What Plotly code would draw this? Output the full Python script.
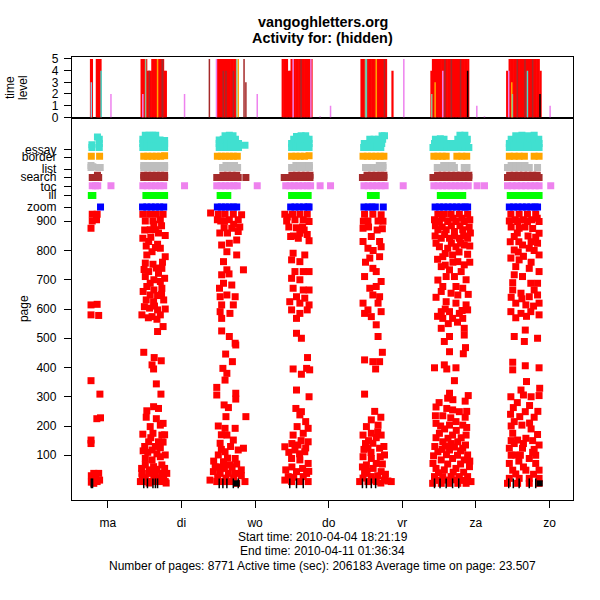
import plotly.graph_objects as go

FONT = "Liberation Sans, Arial, sans-serif"

# ---------------- axis tick data ----------------
day_ticks = [24, 48, 72, 96, 120, 144, 168]          # hours since 2010-04-04 00:00
day_labels = ["ma", "di", "wo", "do", "vr", "za", "zo"]
page_ticks = [100, 200, 300, 400, 500, 600, 700, 800, 900]
cat_labels = ["zoom", "ill", "toc", "search", "list", "border", "essay"]
cat_ticks = [948, 989, 1019, 1051, 1078, 1119, 1146]
level_ticks = [0, 1, 2, 3, 4, 5]

# ---------------- page views (hour, page) per day ----------------
pages_c1 = [(18.9, 924), (20.5, 924), (18.9, 901), (20.3, 905), (18.5, 876), (18.5, 614), (20.5, 616),
            (18.5, 580), (21.0, 578), (18.5, 355), (21.4, 309), (20.4, 225), (21.6, 228), (18.5, 152),
            (18.5, 140), (19.4, 38), (21.0, 38), (18.6, 30), (20.0, 25), (18.9, 15), (21.3, 15),
            (20.5, 10), (18.6, 8), (19.4, 4)]
pages_c2 = [(35.4, 924), (37.6, 924), (39.8, 924), (42.0, 924), (36.2, 901), (38.7, 901), (41.1, 905),
            (37.8, 871), (39.5, 871), (35.4, 842), (42.7, 851), (37.3, 831), (40.2, 821), (38.4, 796),
            (41.1, 808), (42.7, 779), (36.7, 785), (36.2, 757), (38.7, 753), (41.6, 739), (37.3, 728),
            (40.5, 722), (36.2, 711), (37.8, 688), (41.1, 694), (36.7, 677), (41.6, 671), (37.8, 648),
            (40.2, 646), (36.5, 631), (38.9, 625), (42.2, 631), (35.9, 608), (37.6, 603), (40.2, 597),
            (42.7, 600), (35.1, 580), (38.4, 574), (41.1, 580), (42.0, 540), (40.2, 523), (35.7, 452),
            (39.1, 434), (41.4, 423), (38.4, 409), (38.9, 395), (39.8, 344), (41.3, 309), (38.9, 266),
            (36.7, 252), (40.5, 260), (37.8, 198), (41.1, 203), (42.0, 209), (35.4, 172), (38.7, 175),
            (41.6, 169), (37.3, 146), (40.5, 146), (38.4, 118), (41.1, 126), (36.2, 89), (38.4, 84),
            (41.1, 95), (42.7, 101), (36.2, 67), (38.9, 61), (41.6, 67), (35.1, 38), (37.3, 38),
            (39.5, 38), (41.6, 38), (43.2, 38), (34.6, 10), (36.5, 10), (38.4, 10), (40.5, 10),
            (42.7, 10), (36.2, 21), (40.0, 21), (42.2, 21), (35.0, 55), (37.5, 50), (40.0, 52),
            (42.5, 55), (35.2, 25), (39.0, 28), (41.0, 15), (37.4, 5), (43.0, 5),
            (39.0, 890), (41.5, 885), (36.0, 870), (40.5, 860), (38.0, 845), (39.5, 810), (36.5, 815),
            (41.8, 760), (39.8, 740), (35.8, 735), (39.0, 700), (42.5, 705), (35.5, 660), (39.0, 665),
            (41.5, 650), (39.2, 610), (37.2, 570), (40.0, 565), (36.0, 130), (39.5, 130), (42.0, 145),
            (37.0, 110), (40.0, 105), (35.5, 115), (38.0, 160), (42.5, 170), (36.5, 230), (39.8, 225)]
pages_c3 = [(57.5, 928), (60.0, 924), (62.2, 924), (64.9, 924), (67.6, 922), (60.8, 901), (63.6, 905),
            (66.5, 905), (61.9, 878), (64.4, 876), (61.1, 819), (66.0, 836), (63.6, 825), (62.8, 796),
            (66.0, 785), (61.7, 762), (62.8, 734), (68.2, 734), (61.1, 717), (61.7, 688), (64.4, 682),
            (60.4, 671), (60.6, 642), (62.8, 648), (65.5, 642), (64.9, 614), (61.1, 614), (60.6, 591),
            (63.8, 585), (61.1, 568), (61.1, 525), (63.6, 506), (65.5, 483), (62.4, 446), (65.7, 477),
            (64.6, 420), (61.5, 397), (62.8, 380), (62.2, 357), (59.5, 332), (59.5, 306), (65.7, 312),
            (65.7, 292), (61.9, 272), (63.3, 263), (62.5, 232), (69.0, 232), (62.2, 192), (65.5, 192),
            (60.6, 141), (64.9, 152), (62.8, 169), (60.0, 101), (62.2, 112), (66.5, 118), (68.2, 124),
            (61.7, 78), (65.5, 89), (63.8, 67), (58.4, 44), (60.6, 38), (63.3, 38), (65.5, 38),
            (57.3, 15), (59.5, 10), (61.7, 10), (63.8, 10), (66.0, 4), (68.7, 10), (59.0, 60),
            (62.0, 55), (64.5, 60), (67.5, 30), (59.8, 25), (62.5, 22), (65.0, 22), (61.0, 170),
            (64.0, 130), (60.0, 200),
            (59.7, 905), (62.0, 900), (65.0, 890), (67.0, 880), (60.5, 860), (63.0, 860), (66.5, 865),
            (63.5, 720), (58.5, 80), (63.0, 90), (66.0, 70), (61.0, 120), (60.5, 60), (67.5, 50)]
pages_c4 = [(81.7, 924), (84.2, 924), (86.6, 924), (89.0, 924), (82.3, 901), (85.0, 905), (87.7, 905),
            (89.6, 899), (85.5, 878), (86.6, 859), (83.6, 848), (86.1, 842), (89.6, 833), (84.4, 791),
            (88.2, 785), (83.9, 768), (86.6, 762), (85.0, 728), (87.7, 728), (89.6, 728), (83.9, 705),
            (86.6, 700), (84.4, 671), (87.7, 665), (89.6, 665), (85.5, 642), (88.2, 637), (83.3, 625),
            (86.6, 620), (89.6, 614), (83.9, 597), (86.6, 585), (85.5, 568), (89.0, 597), (85.5, 517),
            (87.1, 500), (89.1, 434), (84.4, 395), (87.1, 377), (88.8, 397), (89.8, 392), (85.5, 323),
            (89.6, 300), (85.3, 260), (86.6, 238), (87.1, 249), (85.7, 198), (89.3, 192), (84.4, 169),
            (87.7, 175), (89.3, 146), (81.7, 129), (85.0, 118), (88.2, 112), (83.9, 89), (86.6, 84),
            (89.3, 72), (85.5, 44), (88.8, 38), (81.7, 15), (83.9, 10), (86.6, 10), (89.3, 10),
            (87.7, 27), (82.8, 27), (84.6, 25), (87.0, 150), (84.0, 140), (86.5, 105), (88.5, 215),
            (83.0, 880), (88.0, 870), (84.5, 850), (89.0, 855), (82.5, 915), (87.5, 880),
            (82.0, 50), (84.0, 60), (87.5, 55), (89.5, 45), (83.0, 110), (86.0, 135), (88.5, 125)]
pages_c5 = [(107.7, 924), (110.4, 924), (113.1, 922), (108.8, 901), (112.1, 901), (107.2, 876),
            (113.5, 874), (109.9, 848), (107.2, 831), (112.6, 831), (108.8, 808), (113.1, 813),
            (109.4, 774), (112.6, 779), (110.4, 739), (111.5, 728), (107.7, 711), (113.1, 694),
            (109.4, 671), (111.5, 677), (110.4, 648), (112.6, 642), (107.2, 620), (112.1, 620),
            (108.8, 597), (113.1, 591), (109.9, 574), (107.7, 585), (111.5, 546), (112.1, 506),
            (113.5, 452), (107.7, 426), (110.4, 420), (112.6, 420), (111.3, 395), (107.7, 309),
            (109.9, 221), (108.3, 198), (112.1, 203), (107.2, 169), (109.9, 175), (113.1, 169),
            (110.4, 141), (108.8, 124), (112.6, 124), (114.2, 101), (107.2, 95), (109.9, 89),
            (108.3, 67), (111.5, 72), (113.1, 44), (107.7, 38), (116.4, 10), (106.1, 10), (108.8, 10),
            (111.5, 10), (114.2, 15), (109.9, 27), (108.0, 140), (111.5, 160), (112.8, 95),
            (110.5, 55), (108.5, 45), (112.0, 30), (114.5, 35), (107.2, 22), (113.0, 5), (115.3, 12),
            (109.8, 110), (111.0, 250), (113.0, 230),
            (109.0, 880), (111.8, 870), (113.7, 900), (107.3, 900), (110.5, 800), (108.0, 760),
            (107.0, 60), (109.0, 150), (112.0, 180), (114.0, 130), (110.0, 15), (107.5, 120),
            (113.5, 70)]
pages_c6 = [(131.6, 924), (133.7, 924), (135.9, 924), (138.6, 924), (141.3, 924), (132.1, 899),
            (134.8, 899), (137.5, 899), (140.2, 899), (131.6, 871), (134.3, 871), (137.0, 865),
            (139.7, 871), (132.7, 842), (135.4, 842), (138.6, 842), (141.3, 842), (132.1, 813),
            (134.8, 808), (137.5, 813), (140.2, 819), (133.2, 779), (136.4, 785), (141.3, 787),
            (138.1, 762), (140.2, 751), (132.7, 745), (135.4, 734), (139.2, 728), (131.6, 699),
            (134.3, 711), (137.0, 711), (140.8, 700), (133.2, 677), (137.5, 677), (139.7, 671),
            (132.7, 660), (135.9, 654), (138.1, 648), (134.3, 625), (137.5, 620), (140.8, 614),
            (132.7, 591), (135.4, 591), (138.6, 585), (141.3, 597), (133.2, 568), (136.4, 568),
            (139.7, 568), (132.7, 534), (135.4, 506), (133.7, 489), (140.2, 534), (140.2, 511),
            (140.6, 468), (135.4, 454), (139.9, 447), (130.5, 399), (133.7, 409), (134.5, 395),
            (137.5, 399), (137.0, 355), (135.4, 312), (134.8, 295), (141.5, 304), (136.4, 255),
            (138.6, 249), (133.2, 235), (131.0, 209), (135.4, 203), (139.7, 203), (132.1, 175),
            (136.4, 169), (140.8, 169), (133.2, 146), (138.1, 146), (131.6, 112), (135.4, 118),
            (139.7, 124), (141.3, 101), (132.7, 84), (136.4, 89), (140.2, 84), (141.9, 61),
            (131.0, 55), (133.7, 50), (137.5, 55), (130.5, 27), (133.2, 27), (135.9, 27), (138.6, 27),
            (141.3, 27), (129.9, 4), (132.7, 4), (135.4, 4), (138.1, 4), (140.8, 4), (142.4, 10),
            (130.8, 235), (135.8, 228), (140.5, 230), (133.8, 190), (137.6, 185), (141.0, 195),
            (131.0, 160), (134.9, 158), (139.2, 160), (130.6, 130), (134.0, 132), (137.0, 128),
            (140.6, 135), (130.2, 98), (134.4, 102), (138.0, 100), (130.0, 72), (134.8, 70),
            (139.0, 70), (142.0, 80), (131.8, 40), (136.6, 42), (140.0, 42), (131.2, 14), (134.0, 15),
            (137.0, 16), (139.8, 14),
            (130.5, 905), (133.0, 910), (136.5, 910), (139.5, 910), (142.0, 905), (130.8, 885),
            (133.0, 880), (136.0, 885), (138.8, 885), (141.8, 880), (130.7, 850), (133.8, 855),
            (137.0, 850), (140.0, 850), (142.2, 860), (131.0, 825), (136.0, 825), (139.0, 825),
            (142.0, 815), (134.0, 790), (138.5, 795), (131.5, 770), (136.5, 760), (134.0, 750),
            (142.0, 760), (131.0, 640), (141.5, 650), (134.0, 600), (139.5, 595), (131.5, 575),
            (135.0, 550), (138.0, 555), (132.0, 280), (136.5, 290), (140.5, 285), (131.0, 265),
            (134.5, 260), (141.0, 250), (137.5, 215), (132.5, 200), (136.0, 140), (139.0, 115),
            (133.0, 120)]
pages_c7 = [(155.4, 924), (158.1, 924), (160.8, 924), (163.5, 924), (154.9, 901), (157.6, 899),
            (160.8, 899), (164.6, 899), (158.1, 876), (156.5, 848), (164.6, 859), (159.2, 819),
            (164.1, 825), (156.5, 802), (161.4, 808), (164.6, 785), (155.4, 774), (158.1, 768),
            (161.4, 739), (164.6, 728), (156.5, 717), (159.2, 711), (161.9, 688), (164.1, 688),
            (156.0, 665), (158.7, 654), (161.4, 642), (164.1, 648), (157.0, 620), (160.3, 614),
            (164.6, 620), (155.4, 591), (158.7, 585), (161.9, 591), (164.6, 580), (160.1, 528),
            (156.5, 506), (159.8, 489), (164.1, 500), (156.0, 418), (156.0, 392), (160.1, 406),
            (164.6, 399), (160.5, 352), (158.7, 323), (159.5, 306), (164.8, 329), (164.6, 304),
            (156.2, 263), (160.1, 249), (158.3, 232), (159.0, 203), (164.1, 171), (156.0, 175),
            (157.6, 152), (160.3, 158), (154.9, 124), (159.2, 124), (164.6, 135), (157.0, 101),
            (161.4, 89), (154.9, 72), (163.5, 72), (156.0, 49), (160.3, 49), (164.6, 49), (154.9, 21),
            (158.1, 21), (161.4, 21), (164.6, 21), (154.3, 4), (157.6, 4), (161.4, 4), (164.6, 4),
            (162.0, 190), (155.5, 200), (162.5, 150), (158.0, 80), (162.5, 110), (156.5, 140),
            (159.5, 60), (162.8, 35), (157.0, 36), (163.0, 230), (161.5, 270), (155.3, 240),
            (156.8, 905), (159.5, 905), (162.2, 905), (164.0, 910), (155.5, 880), (160.0, 880),
            (162.5, 875), (157.5, 860), (161.0, 850), (163.5, 845), (155.2, 830), (158.0, 830),
            (162.0, 830), (157.8, 795), (163.0, 800), (159.5, 780), (162.0, 760), (157.0, 745),
            (156.0, 690), (163.0, 665), (159.0, 635), (155.5, 640), (162.8, 610), (157.0, 570),
            (160.5, 575), (155.5, 100), (158.5, 100), (163.5, 100), (155.5, 150), (159.5, 140),
            (163.0, 120), (156.5, 215), (161.5, 210), (164.2, 250), (157.5, 280), (162.0, 300),
            (155.4, 300)]

# ---------------- other page types (hour, value) ----------------
essay_pts = [(18.8, 1152), (18.8, 1162), (21.2, 1152), (21.2, 1166), (21.2, 1180), (20.6, 1188),
             (35.4, 1152), (36.8, 1152), (38.2, 1152), (39.6, 1152), (41.0, 1152), (42.5, 1152),
             (35.4, 1166), (36.8, 1166), (38.2, 1166), (39.6, 1166), (41.0, 1166), (42.5, 1166),
             (35.4, 1180), (36.8, 1180), (38.2, 1180), (39.6, 1180), (41.0, 1178), (42.5, 1176),
             (36.2, 1194), (37.4, 1194), (38.6, 1194), (39.6, 1194),
             (60.3, 1152), (61.6, 1152), (62.9, 1152), (64.2, 1152), (65.5, 1152), (66.6, 1152),
             (60.3, 1166), (61.6, 1166), (62.9, 1166), (64.2, 1166), (65.5, 1166), (66.6, 1166),
             (60.3, 1178), (61.6, 1180), (62.9, 1180), (64.2, 1180), (65.6, 1180),
             (62.2, 1192), (63.6, 1194), (64.8, 1192), (68.7, 1160),
             (83.9, 1152), (85.3, 1152), (86.7, 1152), (88.1, 1152), (89.6, 1152),
             (83.9, 1166), (85.3, 1166), (86.7, 1166), (88.1, 1166), (89.6, 1166),
             (84.6, 1180), (86.0, 1180), (87.4, 1180), (88.8, 1180), (89.6, 1180),
             (85.5, 1190), (87.0, 1192), (88.5, 1192),
             (107.4, 1152), (108.8, 1152), (110.2, 1152), (111.6, 1152), (113.0, 1152),
             (107.6, 1166), (109.0, 1166), (110.4, 1166), (111.8, 1166), (113.3, 1166),
             (109.4, 1180), (110.8, 1180), (112.2, 1180), (113.6, 1180), (113.4, 1192), (114.2, 1192),
             (130.0, 1152), (131.5, 1152), (133.0, 1152), (134.5, 1152), (136.0, 1152), (137.5, 1152),
             (139.0, 1152), (140.5, 1152), (141.7, 1152),
             (130.5, 1166), (132.0, 1166), (133.5, 1166), (135.0, 1166), (136.5, 1166), (138.0, 1166),
             (139.5, 1166), (141.0, 1166),
             (130.8, 1180), (132.4, 1182), (133.6, 1180), (138.1, 1180), (139.6, 1182), (141.2, 1180),
             (138.8, 1194), (140.4, 1194),
             (154.9, 1152), (156.3, 1152), (157.7, 1152), (159.1, 1152), (160.5, 1152), (161.9, 1152),
             (163.3, 1152), (164.6, 1152),
             (154.9, 1166), (156.3, 1166), (157.7, 1166), (159.1, 1166), (160.5, 1166), (161.9, 1166),
             (163.3, 1166), (164.6, 1166),
             (155.5, 1180), (157.0, 1180), (158.5, 1180), (160.0, 1180), (161.5, 1180), (163.0, 1180),
             (164.5, 1180), (157.0, 1192), (159.0, 1194), (161.0, 1192), (163.0, 1194)]
border_pts = [(18.6, 1122), (21.3, 1122),
              (35.7, 1122), (37.0, 1122), (38.4, 1122), (39.8, 1122), (41.2, 1122), (42.5, 1124),
              (59.7, 1122), (61.0, 1122), (62.3, 1122), (63.6, 1122), (64.9, 1122), (66.2, 1122),
              (83.9, 1122), (85.3, 1122), (86.7, 1122), (88.1, 1122), (89.6, 1124),
              (107.2, 1122), (108.6, 1122), (110.0, 1122), (111.4, 1122), (112.8, 1122), (114.0, 1122),
              (130.3, 1122), (131.6, 1122), (133.0, 1122), (134.3, 1122), (137.8, 1122), (139.4, 1122),
              (141.0, 1122),
              (154.9, 1122), (156.5, 1122), (158.1, 1122), (159.8, 1122), (163.0, 1122), (164.6, 1122)]
list_pts = [(18.5, 1091), (18.5, 1084), (19.1, 1086), (21.0, 1084), (21.5, 1084),
            (35.7, 1084), (37.0, 1084), (38.4, 1084), (39.8, 1084), (41.2, 1084), (42.5, 1084),
            (35.7, 1091), (37.0, 1091), (38.4, 1091), (39.8, 1091), (41.2, 1091), (42.5, 1091),
            (61.4, 1084), (62.7, 1084), (64.0, 1084), (65.3, 1084), (66.3, 1084),
            (62.5, 1091), (64.0, 1091), (65.3, 1091),
            (83.9, 1084), (85.3, 1084), (86.7, 1084), (88.1, 1084), (89.7, 1084),
            (85.3, 1091), (86.7, 1091), (88.1, 1091), (89.7, 1091),
            (108.0, 1084), (109.4, 1084), (110.8, 1084), (112.2, 1084), (113.7, 1084),
            (112.5, 1091), (113.7, 1091),
            (131.4, 1084), (132.8, 1084), (134.2, 1084), (135.6, 1084), (137.0, 1084), (140.2, 1084),
            (141.1, 1084), (133.5, 1091), (135.0, 1091), (136.3, 1091),
            (154.3, 1084), (155.7, 1084), (157.1, 1084), (158.5, 1084), (160.0, 1084), (161.4, 1084),
            (164.1, 1084), (155.5, 1091), (157.0, 1091), (158.5, 1091), (160.0, 1091)]
search_pts = [(18.9, 1050), (20.0, 1050), (21.0, 1050), (20.6, 1057),
              (35.7, 1050), (37.0, 1050), (38.4, 1050), (39.8, 1050), (41.2, 1050), (42.5, 1050),
              (35.7, 1057), (37.0, 1057), (38.4, 1057), (39.8, 1057), (41.2, 1057), (42.5, 1057),
              (59.5, 1050), (60.9, 1050), (62.3, 1050), (63.7, 1050), (65.1, 1050), (66.5, 1050),
              (69.0, 1050), (61.5, 1057), (63.0, 1057), (64.5, 1057), (66.0, 1057),
              (81.5, 1050), (82.9, 1050), (84.3, 1050), (85.7, 1050), (87.1, 1050), (88.5, 1050),
              (89.9, 1050), (84.0, 1057), (85.5, 1057), (87.0, 1057), (88.5, 1057), (89.9, 1057),
              (107.0, 1050), (108.4, 1050), (109.8, 1050), (111.2, 1050), (112.6, 1050), (114.0, 1050),
              (108.5, 1057), (110.0, 1057), (111.5, 1057), (113.0, 1057), (114.0, 1057),
              (130.0, 1050), (131.5, 1050), (133.0, 1050), (134.5, 1050), (136.0, 1050), (137.5, 1050),
              (139.0, 1050), (140.5, 1050), (141.7, 1050),
              (131.5, 1057), (133.0, 1057), (134.5, 1057), (136.0, 1057), (137.5, 1057), (139.0, 1057),
              (140.5, 1057), (141.7, 1057),
              (154.3, 1050), (155.8, 1050), (157.3, 1050), (158.8, 1050), (160.3, 1050), (161.8, 1050),
              (163.3, 1050), (164.6, 1050),
              (155.0, 1057), (156.5, 1057), (158.0, 1057), (159.5, 1057), (161.0, 1057), (162.5, 1057),
              (164.0, 1057)]
toc_pts = [(18.9, 1021), (20.0, 1021), (20.7, 1021), (25.0, 1021),
           (35.4, 1021), (36.8, 1021), (38.2, 1021), (39.6, 1021), (41.0, 1021), (42.2, 1021), (49.0, 1021),
           (59.5, 1021), (60.9, 1021), (62.3, 1021), (63.7, 1021), (65.1, 1021), (66.2, 1021), (72.7, 1021),
           (82.0, 1021), (83.4, 1021), (84.8, 1021), (86.2, 1021), (87.6, 1021), (89.0, 1021), (90.1, 1021),
           (93.2, 1021), (96.6, 1021),
           (107.5, 1021), (108.9, 1021), (110.3, 1021), (111.7, 1021), (113.1, 1021), (114.4, 1021),
           (120.3, 1021),
           (130.3, 1021), (131.7, 1021), (133.1, 1021), (134.5, 1021), (135.9, 1021), (137.3, 1021),
           (138.7, 1021), (140.1, 1021), (141.5, 1021), (144.4, 1021), (146.8, 1021),
           (154.3, 1021), (155.8, 1021), (157.3, 1021), (158.8, 1021), (160.3, 1021), (161.8, 1021),
           (163.3, 1021), (164.6, 1021), (168.4, 1021)]
ill_pts = [(18.6, 988), (19.1, 988),
           (36.4, 988), (37.8, 988), (39.2, 988), (40.6, 988), (42.0, 988), (42.5, 988),
           (60.6, 988), (61.9, 988), (63.1, 988),
           (83.9, 988), (85.3, 988), (86.7, 988), (88.1, 988), (89.3, 988),
           (109.6, 988), (110.6, 988), (111.5, 988),
           (132.4, 988), (133.8, 988), (135.2, 988), (136.6, 988), (138.0, 988), (139.7, 988),
           (155.2, 988), (156.6, 988), (158.0, 988), (159.4, 988), (160.8, 988), (162.2, 988),
           (163.6, 988), (164.6, 988)]
zoom_pts = [(21.6, 949),
            (35.3, 949), (36.7, 949), (38.1, 949), (39.5, 949), (40.9, 949), (42.2, 949),
            (59.7, 949), (61.0, 949), (62.3, 949), (63.6, 949), (64.9, 949), (66.0, 949),
            (83.6, 949), (85.0, 949), (86.4, 949), (87.8, 949), (89.2, 949), (89.6, 949),
            (107.5, 949), (108.9, 949), (110.1, 949), (111.2, 949), (113.8, 949),
            (130.7, 949), (132.1, 949), (133.5, 949), (134.9, 949), (136.3, 949), (137.7, 949),
            (139.1, 949), (140.5, 949), (141.3, 949),
            (154.9, 949), (156.3, 949), (157.7, 949), (159.1, 949), (160.5, 949), (161.9, 949),
            (163.3, 949), (164.1, 949)]
black_tick_h = [18.6, 19.0, 35.7, 36.9, 38.7, 39.5, 40.2, 60.3, 61.5, 62.8, 64.9, 66.5, 83.3, 85.5,
                87.7, 107.0, 108.3, 109.9, 111.3, 130.5, 132.3, 134.3, 136.4, 138.4, 154.7, 156.2,
                158.1, 161.4, 163.5]
black_tick_page = [4] * len(black_tick_h)
black_square_h = [66.0, 164.8]
black_square_page = [4, 4]

# ---------------- time-level spikes (hour, level) ----------------
spikes_red = [(18.5, 5), (18.8, 5), (20.4, 5), (20.7, 5), (21.0, 5), (21.3, 5), (21.6, 5),
              (35.0, 5), (35.5, 5), (36.0, 5), (36.5, 5), (37.0, 4), (37.5, 4), (38.0, 4), (38.5, 5),
              (39.0, 5), (39.5, 5), (40.0, 5), (40.5, 5), (41.0, 5), (41.5, 5), (42.0, 5), (42.4, 4),
              (42.9, 4),
              (59.7, 5), (60.2, 5), (60.7, 5), (61.2, 5), (61.7, 5), (62.2, 5), (62.7, 5), (63.2, 5),
              (63.7, 5), (64.2, 5), (64.7, 5), (65.2, 5), (65.7, 5),
              (81.0, 5), (81.5, 5), (82.0, 5), (82.4, 5), (82.9, 4), (83.4, 4), (83.9, 5), (84.4, 5),
              (84.9, 5), (85.4, 5), (85.9, 5), (86.4, 5), (86.9, 5), (87.4, 5), (87.9, 5), (88.4, 5),
              (88.9, 5), (89.4, 5), (89.9, 5), (90.4, 5),
              (106.7, 5), (107.2, 5), (107.7, 5), (108.2, 5), (108.7, 5), (109.2, 5), (109.7, 5),
              (110.2, 5), (110.7, 5), (111.2, 5), (111.7, 5), (112.2, 5), (112.7, 5), (113.2, 5),
              (113.7, 5), (114.2, 5), (114.7, 5), (116.8, 4),
              (129.5, 4), (130.0, 5), (130.5, 5), (131.0, 5), (131.5, 5), (132.0, 5), (132.5, 5),
              (133.0, 5), (133.5, 5), (134.0, 5), (134.5, 5), (135.0, 5), (135.5, 5), (136.0, 5),
              (136.5, 5), (137.0, 5), (137.5, 5), (138.0, 5), (138.5, 5), (139.0, 5), (139.5, 5),
              (140.0, 5), (140.5, 5), (141.0, 5), (141.5, 5),
              (154.2, 4), (155.0, 5), (155.5, 5), (156.0, 5), (156.5, 5), (157.0, 5), (157.5, 5),
              (158.0, 5), (158.5, 5), (159.0, 5), (159.5, 5), (160.0, 5), (160.5, 5), (161.0, 5),
              (161.5, 5), (162.0, 5), (162.5, 5), (163.0, 5), (163.5, 5), (164.0, 5), (164.5, 5),
              (165.1, 4)]
spikes_brown = [(37.5, 4), (41.7, 5), (41.9, 5), (57.1, 5), (61.6, 4), (62.5, 4), (64.9, 4), (68.4, 5),
                (69.0, 3), (87.0, 5), (114.2, 5), (133.9, 5), (136.0, 5), (139.0, 5), (157.5, 5),
                (160.0, 5), (162.5, 5)]
spikes_violet = [(25.0, 2), (35.4, 2), (49.0, 2), (59.4, 5), (72.7, 2), (84.4, 5), (90.2, 5), (93.2, 0.1),
                 (96.6, 1), (120.5, 5), (133.2, 4), (144.3, 1), (146.8, 0.1), (154.7, 4), (168.2, 1)]
spikes_turquoise = [(21.8, 4), (108.3, 5), (160.8, 4)]
spikes_orange = [(40.2, 5), (66.5, 5), (111.5, 5), (130.7, 3), (155.7, 3)]
spikes_seagreen = [(36.3, 5), (66.0, 5), (108.0, 5), (129.6, 2), (155.9, 2)]
spikes_lightblue = [(18.6, 3)]
spikes_black = [(141.3, 4), (164.9, 2)]

# ---------------- build figure ----------------
fig = go.Figure()


def add_spikes(pairs, color, width):
    xs, ys = [], []
    for h, lv in pairs:
        xs += [h, h, None]
        ys += [0, lv, None]
    fig.add_trace(go.Scatter(x=xs, y=ys, mode="lines", xaxis="x2", yaxis="y2",
                             line=dict(color=color, width=width), hoverinfo="skip",
                             showlegend=False))


add_spikes(spikes_red, "#FF0000", 2.2)
add_spikes(spikes_brown, "#A52A2A", 1.5)
add_spikes(spikes_violet, "#EE82EE", 1.5)
add_spikes(spikes_turquoise, "#40E0D0", 1.5)
add_spikes(spikes_orange, "#FFA500", 1.5)
add_spikes(spikes_seagreen, "#8FBC8F", 1.5)
add_spikes(spikes_lightblue, "#87CEEB", 1.5)
add_spikes(spikes_black, "#000000", 1.5)


def add_points(pairs, color):
    fig.add_trace(go.Scatter(x=[p[0] for p in pairs], y=[p[1] for p in pairs], mode="markers",
                             xaxis="x", yaxis="y",
                             marker=dict(symbol="square", size=7, color=color, line=dict(width=0)),
                             hoverinfo="skip", showlegend=False))


for grp in [pages_c1, pages_c2, pages_c3, pages_c4, pages_c5, pages_c6, pages_c7]:
    add_points(grp, "#FF0000")
add_points(essay_pts, "#40E0D0")
add_points(border_pts, "#FFA500")
add_points(list_pts, "#BEBEBE")
add_points(search_pts, "#A52A2A")
add_points(toc_pts, "#EE82EE")
add_points(ill_pts, "#00FF00")
add_points(zoom_pts, "#0000FF")

fig.add_trace(go.Scatter(x=black_tick_h, y=black_tick_page, mode="markers", xaxis="x", yaxis="y",
                         marker=dict(symbol="line-ns", size=7, color="black",
                                     line=dict(color="black", width=1.5)),
                         hoverinfo="skip", showlegend=False))
fig.add_trace(go.Scatter(x=black_square_h, y=black_square_page, mode="markers", xaxis="x", yaxis="y",
                         marker=dict(symbol="square", size=6, color="black", line=dict(width=0)),
                         hoverinfo="skip", showlegend=False))

axis_common = dict(showline=True, mirror=True, linecolor="black", linewidth=1.3, showgrid=False,
                   zeroline=False, tickcolor="black", tickfont=dict(family=FONT, size=12, color="black"))
split = 0.8616
fig.update_layout(
    width=600, height=600,
    margin=dict(l=72, r=27, t=57, b=100),
    paper_bgcolor="white", plot_bgcolor="white",
    font=dict(family=FONT, size=12, color="black"),
    showlegend=False,
    xaxis=dict(domain=[0, 1], range=[12.3, 175.66], anchor="y", tickmode="array",
               tickvals=day_ticks, ticktext=day_labels, ticks="outside", ticklen=7,
               ticklabelstandoff=4, **axis_common),
    xaxis2=dict(domain=[0, 1], range=[12.3, 175.66], anchor="y2", showticklabels=False, ticks="",
                **axis_common),
    yaxis=dict(domain=[0, split], range=[-53, 1252], anchor="x", tickmode="array",
               tickvals=page_ticks + cat_ticks,
               ticktext=[str(v) for v in page_ticks] + cat_labels,
               ticks="outside", ticklen=7, ticklabelstandoff=5, **axis_common),
    yaxis2=dict(domain=[split, 1], range=[-0.086, 5.17], anchor="x2", tickmode="array",
                tickvals=level_ticks, ticktext=[str(v) for v in level_ticks],
                ticks="outside", ticklen=7, ticklabelstandoff=3, **axis_common),
)

ann = []
ann.append(dict(text="<b>vangoghletters.org</b>", x=0.5, y=1.0797, xref="paper", yref="paper",
                showarrow=False, xanchor="center", yanchor="middle",
                font=dict(family=FONT, size=14.4, color="black")))
ann.append(dict(text="<b>Activity for: (hidden)</b>", x=0.5, y=1.0422, xref="paper", yref="paper",
                showarrow=False, xanchor="center", yanchor="middle",
                font=dict(family=FONT, size=14.4, color="black")))
for txt, yy in [("Start time: 2010-04-04 18:21:19", -0.0828),
                ("End time: 2010-04-11 01:36:34", -0.1151),
                ("Number of pages: 8771 Active time (sec): 206183 Average time on page: 23.507", -0.1483)]:
    ann.append(dict(text=txt, x=0.5, y=yy, xref="paper", yref="paper", showarrow=False,
                    xanchor="center", yanchor="middle", font=dict(family=FONT, size=12, color="black")))
ann.append(dict(text="page", x=-0.0958, y=0.431, xref="paper", yref="paper", showarrow=False,
                textangle=-90, xanchor="center", yanchor="middle",
                font=dict(family=FONT, size=12, color="black")))
ann.append(dict(text="time", x=-0.1237, y=0.930, xref="paper", yref="paper", showarrow=False,
                textangle=-90, xanchor="center", yanchor="middle",
                font=dict(family=FONT, size=12, color="black")))
ann.append(dict(text="level", x=-0.0978, y=0.930, xref="paper", yref="paper", showarrow=False,
                textangle=-90, xanchor="center", yanchor="middle",
                font=dict(family=FONT, size=12, color="black")))
fig.update_layout(annotations=ann)

# remove the default 8px page margin so the 600x600 figure fills the window exactly
fig.write_html("out.html", config={"displayModeBar": False},
               post_script="document.body.style.margin='0';")
